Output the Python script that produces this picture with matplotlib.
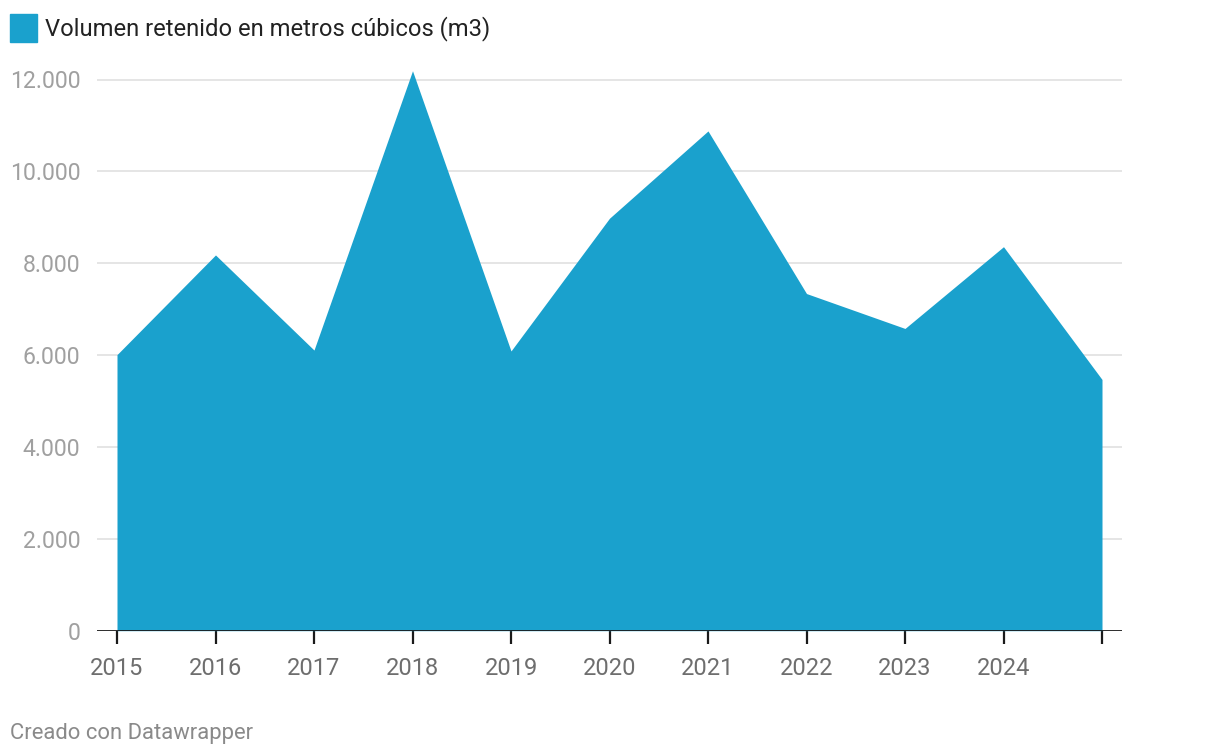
import matplotlib.pyplot as plt
from matplotlib.patches import Rectangle

plt.rcParams["font.family"] = ["Roboto", "DejaVu Sans"]

years = [2015, 2016, 2017, 2018, 2019, 2020, 2021, 2022, 2023, 2024, 2025]
volumen = [6010, 8180, 6110, 12190, 6090, 8980, 10880, 7340, 6580, 8360, 5470]
tick_labels = ["2015", "2016", "2017", "2018", "2019", "2020", "2021",
               "2022", "2023", "2024", ""]
y_ticks = [0, 2000, 4000, 6000, 8000, 10000, 12000]
y_labels = ["0", "2.000", "4.000", "6.000", "8.000", "10.000", "12.000"]

fill_color = "#1aa1cd"

fig = plt.figure(figsize=(12.2, 7.56), dpi=100)
W, H = 1220, 756

# axes placed in pixel coords of the reference
ax_left, ax_right = 97, 1122
ax_bottom_px = 630.7
ymax = 12400
px_per_unit = (630.7 - 79.5) / 12000
ax_height_px = ymax * px_per_unit
ax = fig.add_axes([ax_left / W, (H - ax_bottom_px) / H,
                   (ax_right - ax_left) / W, ax_height_px / H])

ax.fill_between(years, volumen, 0, color=fill_color, lw=0, zorder=2)

ax.set_xlim(2015 - 20 / 98.5, 2025 + 20 / 98.5)
ax.set_ylim(0, ymax)

for t in y_ticks[1:]:
    ax.axhline(t, color="#e0e0e0", lw=1.2, zorder=1)
ax.axhline(0, color="#1a1a1a", lw=2, zorder=3)

ax.set_yticks(y_ticks)
ax.set_yticklabels(y_labels)
ax.set_xticks(years)
ax.set_xticklabels(tick_labels)
ax.tick_params(axis="y", length=0, pad=12, labelsize=16.6, labelcolor="#a0a0a0")
ax.tick_params(axis="x", length=9, width=1.6, color="#1a1a1a", pad=10,
               labelsize=17, labelcolor="#6e6e6e")

for s in ax.spines.values():
    s.set_visible(False)

# legend
fig.patches.append(Rectangle((10 / W, 1 - 42 / H), 27 / W, 28 / H,
                             transform=fig.transFigure, color=fill_color))
fig.text(45 / W, 1 - 29 / H, "Volumen retenido en metros cúbicos (m3)",
         fontsize=17.1, color="#222222", va="center", ha="left")

fig.text(10 / W, 1 - 733 / H, "Creado con Datawrapper",
         fontsize=15.8, color="#8a8a8a", va="center", ha="left")

fig.savefig("out.png", dpi=100)
